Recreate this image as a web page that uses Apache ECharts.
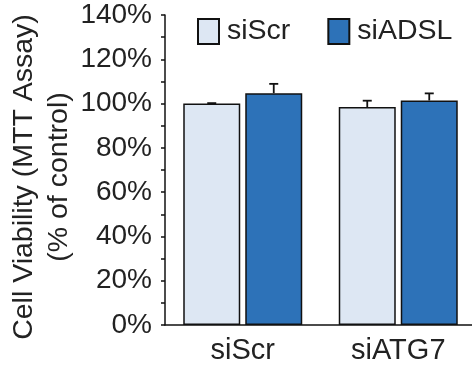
<!DOCTYPE html>
<html><head><meta charset="utf-8">
<script src="https://cdn.jsdelivr.net/npm/echarts@6/dist/echarts.min.js"></script>
<style>html,body{margin:0;padding:0;background:#fff}#c{width:472px;height:367px}</style>
</head><body><div id="c"></div>
<script>
var categories = ['siScr', 'siATG7'];
var seriesNames = ['siScr', 'siADSL'];
var siScrValues = [100, 98.4];
var siADSLValues = [104.7, 101.4];
var siScrErrors = [0.2, 2.9];
var siADSLErrors = [4.2, 3.2];
var yTicks = [0, 20, 40, 60, 80, 100, 120, 140];

var FONT = 'Liberation Sans, Arial, sans-serif';
var BW = 57, GAP = 5;
var colors = ['#dde7f3', '#2d72b8'];

function errSeries(vals, errs, dir) {
  return {
    type: 'custom',
    silent: true,
    z: 1,
    data: vals.map(function (v, i) { return [i, v, v + errs[i]]; }),
    renderItem: function (params, api) {
      var off = dir * (BW / 2 + GAP / 2);
      var p0 = api.coord([api.value(0), api.value(1)]);
      var p1 = api.coord([api.value(0), api.value(2)]);
      var x = p0[0] + off;
      var st = { stroke: '#111', lineWidth: 1.8 };
      return { type: 'group', children: [
        { type: 'line', shape: { x1: x, y1: p0[1], x2: x, y2: p1[1] }, style: st },
        { type: 'line', shape: { x1: x - 4.5, y1: p1[1], x2: x + 4.5, y2: p1[1] }, style: st }
      ]};
    }
  };
}

var chart = echarts.init(document.getElementById('c'));
chart.setOption({
  animation: false,
  textStyle: { fontFamily: FONT },
  legend: {
    data: seriesNames,
    left: 192, top: 12,
    itemWidth: 21, itemHeight: 25, itemGap: 37,
    textStyle: { fontSize: 28.5, color: '#222', fontFamily: FONT, padding: [0, 0, 0, 3] },
    icon: 'rect'
  },
  grid: { left: 165, right: -4, top: 15, bottom: 42, containLabel: false, outerBoundsMode: 'none' },
  xAxis: {
    type: 'category', data: categories,
    axisLine: { lineStyle: { color: '#111', width: 1.5 } },
    axisTick: { show: false },
    axisLabel: { fontSize: 29, color: '#222', margin: 11, fontFamily: FONT }
  },
  yAxis: {
    type: 'value', min: 0, max: 140, interval: 20,
    name: 'Cell Viability (MTT Assay)\n(% of control)',
    nameLocation: 'middle', nameRotate: 90, nameGap: 88, nameMoveOverlap: false,
    nameTextStyle: { fontSize: 28.5, color: '#222', lineHeight: 35, fontFamily: FONT, padding: [0, 14, 0, 0] },
    axisLine: { show: true, lineStyle: { color: '#111', width: 1.5 } },
    axisTick: { show: true, length: 4, lineStyle: { color: '#111', width: 1.5 } },
    minorTick: { show: true, splitNumber: 2, length: 4, lineStyle: { color: '#111', width: 1.5 } },
    splitLine: { show: false },
    axisLabel: { fontSize: 28, color: '#222', margin: 13, fontFamily: FONT,
      formatter: function (v) { return yTicks.indexOf(v) >= 0 ? v + '%' : ''; } }
  },
  series: [
    { name: seriesNames[0], type: 'bar', data: siScrValues, barWidth: BW, barGap: (GAP / BW * 100) + '%',
      itemStyle: { color: colors[0], borderColor: '#111', borderWidth: 1.5 } },
    { name: seriesNames[1], type: 'bar', data: siADSLValues, barWidth: BW,
      itemStyle: { color: colors[1], borderColor: '#111', borderWidth: 1.5 } },
    errSeries(siScrValues, siScrErrors, -1),
    errSeries(siADSLValues, siADSLErrors, 1)
  ]
});
</script></body></html>
